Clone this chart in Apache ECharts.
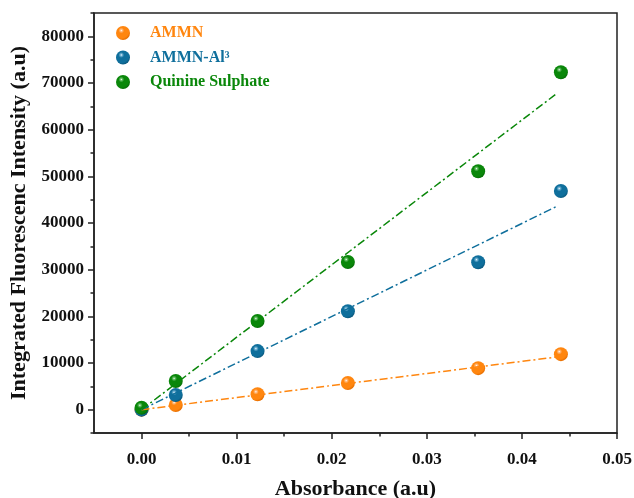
<!DOCTYPE html>
<html>
<head>
<meta charset="utf-8">
<script src="https://cdn.jsdelivr.net/npm/echarts@6/dist/echarts.min.js"></script>
<style>
  html, body { margin: 0; padding: 0; background: #fff; }
  #chart { width: 634px; height: 498px; }
</style>
</head>
<body>
<div id="chart"></div>
<script>
// measured points (absorbance vs integrated intensity)
const absorbance = [0, 0.0036, 0.0122, 0.0217, 0.0354, 0.0441]
const ammn = [0, 1000, 3300, 5700, 8900, 11900]
const ammnAl = [0, 3150, 12550, 21100, 31600, 46850]
const quinine = [400, 6150, 19000, 31650, 51100, 72300]

// linear fit lines, end points
const fitX = [0, 0.0437]
const fitAmmn = [0, 11300]
const fitAmmnAl = [0, 43600]
const fitQuinine = [0, 67800]

const xTicks = [0, 0.01, 0.02, 0.03, 0.04, 0.05]
const xMinor = [0.005, 0.015, 0.025, 0.035, 0.045]
const yTicks = [0, 10000, 20000, 30000, 40000, 50000, 60000, 70000, 80000]
const yMinor = [-5000, 5000, 15000, 25000, 35000, 45000, 55000, 65000, 75000, 85000]

const names = ['AMMN', 'AMMN-Al³', 'Quinine Sulphate']
const colors = ['#ff860f', '#0f6f9c', '#0a870a']
const darks = ['#e86f00', '#0a5a80', '#067006']
const lights = ['#ffc08a', '#7ab8d8', '#70c470']

const serif = '"Times New Roman", "Liberation Serif", serif'

function ball (i) {
  return {
    type: 'radial', x: 0.38, y: 0.32, r: 0.68,
    colorStops: [
      { offset: 0, color: '#ffffff' },
      { offset: 0.1, color: lights[i] },
      { offset: 0.3, color: colors[i] },
      { offset: 0.8, color: colors[i] },
      { offset: 1, color: darks[i] }
    ]
  }
}

const pairs = (xs, ys) => xs.map((x, k) => [x, ys[k]])

const chart = echarts.init(document.getElementById('chart'))

const scatterSets = [ammn, ammnAl, quinine]
const fitSets = [fitAmmn, fitAmmnAl, fitQuinine]

const series = []
scatterSets.forEach((ys, i) => {
  series.push({
    name: names[i],
    type: 'scatter',
    data: pairs(absorbance, ys),
    symbolSize: 14,
    itemStyle: { color: ball(i), opacity: 1 },
    z: 3 + i
  })
})
fitSets.forEach((ys, i) => {
  series.push({
    name: names[i] + ' fit',
    type: 'line',
    data: pairs(fitX, ys),
    showSymbol: false,
    lineStyle: { color: colors[i], width: 1.5, type: [8, 3, 2, 3] },
    z: 8,
    silent: true
  })
})

const tickStyle = { color: '#222', width: 1.5 }

// helper axes that only draw the short minor ticks
function minorAxis (base, ticks) {
  return Object.assign({}, base, {
    axisLine: { show: false, onZero: false },
    axisTick: { show: true, length: 3.5, customValues: ticks, lineStyle: tickStyle },
    axisLabel: { show: false },
    splitLine: { show: false }
  })
}

const xBase = { type: 'value', min: -0.005, max: 0.05, position: 'bottom' }
const yBase = { type: 'value', min: -5000, max: 85000, position: 'left' }

chart.setOption({
  animation: false,
  grid: {
    left: 94, right: 17, top: 13, bottom: 65,
    outerBoundsMode: 'none',
    containLabel: false,
    show: true, borderColor: '#222', borderWidth: 1.5
  },
  legend: {
    orient: 'vertical',
    left: 111,
    top: 20,
    itemWidth: 44,
    itemHeight: 14,
    itemGap: 8.5,
    icon: 'circle',
    textStyle: { fontFamily: serif, fontWeight: 'bold', fontSize: 16 },
    data: names.map((n, i) => ({ name: n, textStyle: { color: colors[i] } }))
  },
  xAxis: [
    Object.assign({}, xBase, {
      name: 'Absorbance (a.u)',
      nameLocation: 'middle',
      nameGap: 45,
      nameTextStyle: { fontFamily: serif, fontWeight: 'bold', fontSize: 22, color: '#111' },
      axisLine: { show: true, onZero: false, lineStyle: tickStyle },
      axisTick: { show: true, length: 6, customValues: xTicks, lineStyle: tickStyle },
      axisLabel: {
        customValues: xTicks,
        margin: 18,
        fontFamily: serif, fontWeight: 'bold', fontSize: 17, color: '#111',
        formatter: v => v.toFixed(2)
      },
      splitLine: { show: false }
    }),
    minorAxis(xBase, xMinor)
  ],
  yAxis: [
    Object.assign({}, yBase, {
      name: 'Integrated Fluorescenc Intensity (a.u)',
      nameLocation: 'middle',
      nameGap: 53,
      nameTextStyle: { fontFamily: serif, fontWeight: 'bold', fontSize: 22, color: '#111' },
      axisLine: { show: true, onZero: false, lineStyle: tickStyle },
      axisTick: { show: true, length: 6, customValues: yTicks, lineStyle: tickStyle },
      axisLabel: {
        customValues: yTicks,
        margin: 10,
        fontFamily: serif, fontWeight: 'bold', fontSize: 17, color: '#111',
        formatter: v => String(v)
      },
      splitLine: { show: false }
    }),
    minorAxis(yBase, yMinor)
  ],
  series: series
})
</script>
</body>
</html>
